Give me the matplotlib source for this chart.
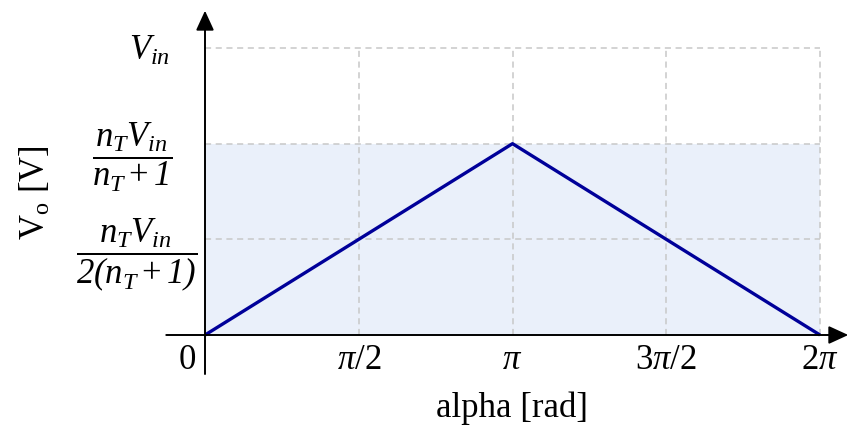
import numpy as np
import matplotlib
matplotlib.use("Agg")
import matplotlib.pyplot as plt
from matplotlib.transforms import ScaledTranslation

plt.rcParams["font.family"] = ["Liberation Serif", "DejaVu Serif"]
plt.rcParams["mathtext.fontset"] = "custom"
plt.rcParams["mathtext.rm"] = "Liberation Serif"
plt.rcParams["mathtext.it"] = "Liberation Serif:italic"
# italic face for digits and brackets inside the tick formulas
plt.rcParams["mathtext.sf"] = "Liberation Serif:italic"
plt.rcParams["mathtext.default"] = "it"

# Output voltage vs. firing angle (normalised: V_in = 1, n_T = 2)
v_in = 1.0
n_t = 2.0
v_peak = n_t * v_in / (n_t + 1)

alpha = [0.0, np.pi, 2 * np.pi]
v_out = [0.0, v_peak, 0.0]

x_ticks = [0.0, np.pi / 2, np.pi, 3 * np.pi / 2, 2 * np.pi]
x_labels = ["0", r"$\pi$/2", r"$\pi$", r"3$\pi$/2", r"2$\pi$"]
y_ticks = [v_peak / 2, v_peak, v_in]
y_labels = [r"$\dfrac{n_T V_{in}}{\mathsf{2(}n_T+\mathsf{1)}}$",
            r"$\dfrac{n_T V_{in}}{n_T+\mathsf{1}}$",
            r"$V_{in}$"]

W, H = 849, 431
fig = plt.figure(figsize=(W / 100, H / 100), dpi=100)
x0, x1, y0, y1 = 205, 820, 336, 49
ax = fig.add_axes([x0 / W, 1 - y0 / H, (x1 - x0) / W, (y0 - y1) / H])
ax.set_xlim(0, 2 * np.pi)
ax.set_ylim(0, v_in)

fs = 25
line_col = "#000099"
fill_col = "#eaf0fa"
grid_col = "#c8c8c8"

ax.fill_between([0, 2 * np.pi], 0, v_peak, color=fill_col, lw=0, zorder=0)

for xv in x_ticks[1:]:
    ax.plot([xv, xv], [0, v_in], color=grid_col, lw=1.1, ls=(0, (4, 3)), zorder=1, clip_on=False)
for yv in y_ticks:
    ax.plot([0, 2 * np.pi], [yv, yv], color=grid_col, lw=1.1, ls=(0, (4, 3)), zorder=1, clip_on=False)

ax.plot(alpha, v_out, color=line_col, lw=2.4, solid_capstyle="butt", zorder=3, clip_on=False)

for s in ax.spines.values():
    s.set_visible(False)

# axis lines with arrow heads
head = "-|>,head_length=1.2,head_width=0.55"
ax.annotate("", xy=(1.046, 0), xytext=(-0.063, 0), xycoords="axes fraction",
            arrowprops=dict(arrowstyle=head, color="black", lw=1.4,
                            shrinkA=0, shrinkB=0), zorder=4)
ax.annotate("", xy=(0, 1.13), xytext=(0, -0.136), xycoords="axes fraction",
            arrowprops=dict(arrowstyle=head, color="black", lw=1.4,
                            shrinkA=0, shrinkB=0), zorder=4)

ax.set_xticks(x_ticks)
ax.set_xticklabels(x_labels, fontsize=fs)
ax.tick_params(axis="x", length=0, pad=6)
lbl0 = ax.get_xticklabels()[0]
lbl0.set_transform(lbl0.get_transform() + ScaledTranslation(-18 / 100, 0, fig.dpi_scale_trans))

ax.set_yticks(y_ticks)
ax.set_yticklabels(y_labels, fontsize=fs, ha="center")
ax.tick_params(axis="y", length=0, pad=47)
for lbl, dx, dy in zip(ax.get_yticklabels(), [-3, -7, 10], [0, 0, 2]):
    lbl.set_transform(lbl.get_transform()
                      + ScaledTranslation(dx / 100, dy / 100, fig.dpi_scale_trans))

ax.set_xlabel("alpha [rad]", fontsize=fs, labelpad=10)
ax.set_ylabel(r"V$_\mathrm{o}$ [V]", fontsize=fs, labelpad=17)

fig.savefig("out.png", dpi=100)
